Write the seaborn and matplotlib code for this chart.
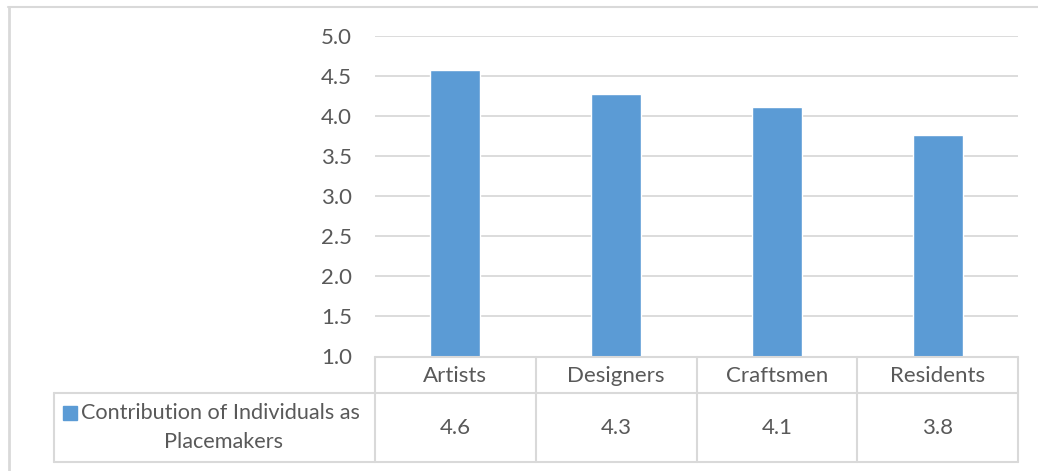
import matplotlib
matplotlib.use("Agg")
import matplotlib.pyplot as plt
from matplotlib.lines import Line2D
import seaborn as sns
import pandas as pd

categories = ["Artists", "Designers", "Craftsmen", "Residents"]
values = [4.58, 4.27, 4.11, 3.77]
value_labels = ["4.6", "4.3", "4.1", "3.8"]
series_line1 = "Contribution of Individuals as"
series_line2 = "Placemakers"
yticks = [1.0, 1.5, 2.0, 2.5, 3.0, 3.5, 4.0, 4.5, 5.0]

sns.set_theme(style="white")
plt.rcParams['font.family'] = ['Lato', 'DejaVu Sans']

W, H = 1038, 471
fig = plt.figure(figsize=(W / 100, H / 100), dpi=100)
fig.patch.set_facecolor("white")

def fx(px):
    return px / W

def fy(py):
    return 1 - py / H

FS = 16
TC = "#595959"
x0, x1 = 375, 1018
y_top, y_bot = 36, 356.5
ax = fig.add_axes([fx(x0), fy(y_bot), fx(x1) - fx(x0), fy(y_top) - fy(y_bot)])

df = pd.DataFrame({"cat": categories, "val": values})
sns.barplot(data=df, x="cat", y="val", color="#5B9BD5", saturation=1,
            width=0.31, ax=ax, zorder=3)
ax.set_ylim(1.0, 5.0)
ax.set_yticks(yticks)
ax.set_yticklabels([f"{t:.1f}" for t in yticks], color=TC, fontsize=FS)
ax.tick_params(axis="y", length=0, pad=16.5)
ax.set_xticks([])
ax.set_xlabel("")
ax.set_ylabel("")
ax.set_xlim(-0.5, len(categories) - 0.5)
ax.grid(axis="y", color="#D9D9D9", linewidth=1.3, zorder=0)
for s in ax.spines.values():
    s.set_visible(False)

grid_c = "#D9D9D9"
lw = 1.5
row1_bot = 393
row2_bot = 462
leg_left = 54
col_edges = [x0 + (x1 - x0) * i / len(categories) for i in range(len(categories) + 1)]

def hline(xa, xb, y):
    fig.add_artist(Line2D([fx(xa), fx(xb)], [fy(y), fy(y)], color=grid_c, lw=lw))

def vline(x, ya, yb):
    fig.add_artist(Line2D([fx(x), fx(x)], [fy(ya), fy(yb)], color=grid_c, lw=lw))

hline(x0, x1, y_bot)
hline(leg_left, x1, row1_bot)
hline(leg_left, x1, row2_bot)
for cx in col_edges:
    vline(cx, y_bot, row2_bot)
vline(leg_left, row1_bot, row2_bot)

for i, cat in enumerate(categories):
    cxm = (col_edges[i] + col_edges[i + 1]) / 2
    fig.text(fx(cxm), fy((y_bot + row1_bot) / 2 + 1), cat, ha="center", va="center",
             fontsize=FS, color=TC)
    fig.text(fx(cxm), fy((row1_bot + row2_bot) / 2 + 1), value_labels[i], ha="center",
             va="center", fontsize=FS, color=TC)

# legend cell
fig.add_artist(plt.Rectangle((fx(63), fy(420)), fx(14), fy(406) - fy(420),
                             transform=fig.transFigure, color="#5B9BD5"))
fig.text(fx(81), fy(413), series_line1, ha="left", va="center", fontsize=15.6, color=TC)
fig.text(fx(224), fy(442), series_line2, ha="center", va="center", fontsize=15.6, color=TC)

# outer chart border (top and left visible)
fig.add_artist(Line2D([fx(8), fx(1038)], [fy(7), fy(7)], color=grid_c, lw=1.5))
fig.add_artist(Line2D([fx(8.5), fx(8.5)], [fy(7), fy(471)], color=grid_c, lw=2))

fig.savefig("out.png", dpi=100, facecolor="white")
